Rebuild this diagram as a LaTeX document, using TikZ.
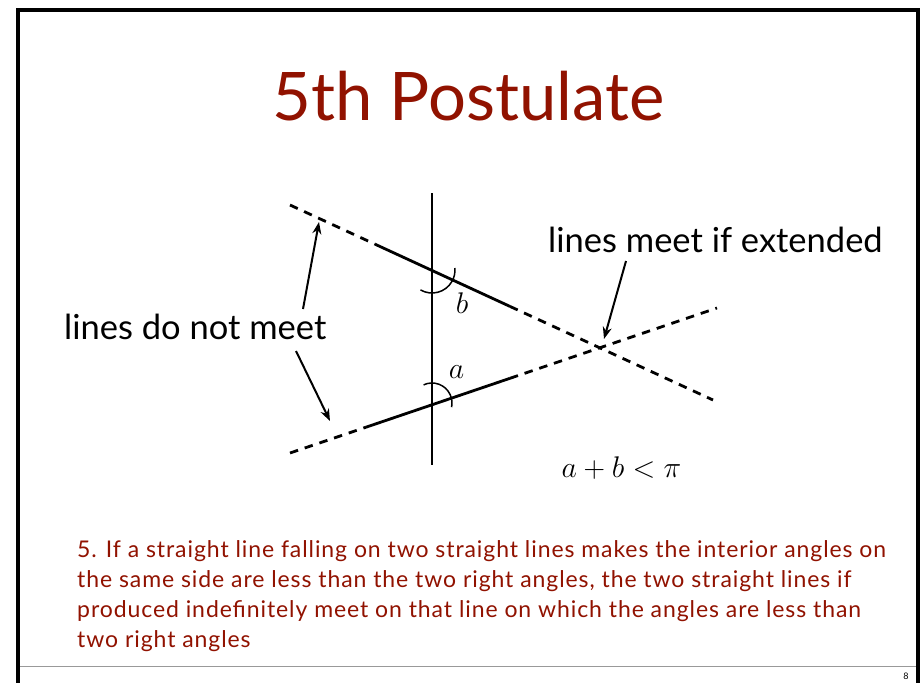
\documentclass[tikz,border=0pt]{standalone}
\usepackage{fontspec}
\usepackage{graphicx}
\setmainfont{Lato}
\newfontfamily\bodyfont[LetterSpace=4.0]{Lato}
\usetikzlibrary{arrows.meta,calc}
\definecolor{slidered}{RGB}{145,18,0}
\newcommand{\bigmath}[1]{\scalebox{1.2}{\fontsize{24.88}{30}\selectfont$#1$}}
\begin{document}
\begin{tikzpicture}[x=1pt,y=1pt,
  lbl/.style={inner sep=0pt, font=\fontsize{34.5}{40}\selectfont},
  body/.style={inner sep=0pt, anchor=base west, text=slidered, font=\bodyfont\fontsize{23}{28}\selectfont},
  mth/.style={inner sep=0pt, anchor=base},
  mainln/.style={line width=2.8pt},
  dashln/.style={line width=2.8pt, dash pattern=on 8.5pt off 7pt},
  vert/.style={line width=2pt},
  anglemark/.style={line width=1.5pt},
  arr/.style={line width=2pt, -{Stealth[length=12pt,width=9pt]}},
  ]
\fill[white] (0,0) rectangle (922,-683);
\useasboundingbox (0,0) rectangle (922,-683);
% frame
\draw[line width=4pt] (18,-683) -- (18,-9.5) -- (918,-9.5) -- (918,-683);
\draw[gray!80, line width=1pt] (20,-666) -- (916,-666);
\node[inner sep=0pt, anchor=base, font=\fontsize{9}{10}\selectfont] (pg) at (906,-679) {8};
% title
\node[inner sep=0pt, anchor=base, text=slidered, font=\fontsize{67}{72}\selectfont] (title) at (468.5,-120) {5th Postulate};
% geometry
\coordinate (U1) at (290,-205);
\coordinate (U2) at (713,-400);
\coordinate (L1) at (290,-453);
\coordinate (L2) at (717,-308);
\coordinate (V1) at (432,-193);
\coordinate (V2) at (432,-465);
\coordinate (Us1) at ($(U1)!0.201!(U2)$);
\coordinate (Us2) at ($(U1)!0.52!(U2)$);
\coordinate (Ls1) at ($(L1)!0.178!(L2)$);
\coordinate (Ls2) at ($(L1)!0.515!(L2)$);
\coordinate (B) at (432,-270);
\coordinate (A) at (432,-403);
\draw[dashln] (U1) -- (Us1);
\draw[mainln] (Us1) -- (Us2);
\draw[dashln] (Us2) -- (U2);
\draw[dashln] (L1) -- (Ls1);
\draw[mainln] (Ls1) -- (Ls2);
\draw[dashln] (Ls2) -- (L2);
\draw[vert] (V1) -- (V2);
% angle marks
\draw[anglemark] (B) ++(240:23) arc[start angle=240, end angle=365, radius=23];
\draw[anglemark] (A) ++(115:20) arc[start angle=115, end angle=-12, radius=20];
\node[mth] (lb) at (462,-313) {\bigmath{b}};
\node[mth] (la) at (456.5,-378) {\bigmath{a}};
\node[mth] (sum) at (621.5,-477) {\bigmath{a+b<\pi}};
% labels
\node[lbl, anchor=base west] (notmeet) at (64,-339) {lines do not meet};
\node[lbl, anchor=base west] (meet) at (548,-252) {lines meet if extended};
\coordinate (nmA) at (303,-309);
\coordinate (nmAt) at (319,-222);
\coordinate (nmB) at (296,-351);
\coordinate (nmBt) at (330,-421);
\coordinate (mA) at (626,-261);
\coordinate (mAt) at (604,-339);
\draw[arr] (nmA) -- (nmAt);
\draw[arr] (nmB) -- (nmBt);
\draw[arr] (mA) -- (mAt);
% postulate text
\node[body] (post1) at (77,-557) {5. If a straight line falling on two straight lines makes the interior angles on};
\node[body] (post2) at (77,-587) {the same side are less than the two right angles, the two straight lines if};
\node[body] (post3) at (77,-617) {produced indefinitely meet on that line on which the angles are less than};
\node[body] (post4) at (77,-647) {two right angles};
\end{tikzpicture}
\end{document}
